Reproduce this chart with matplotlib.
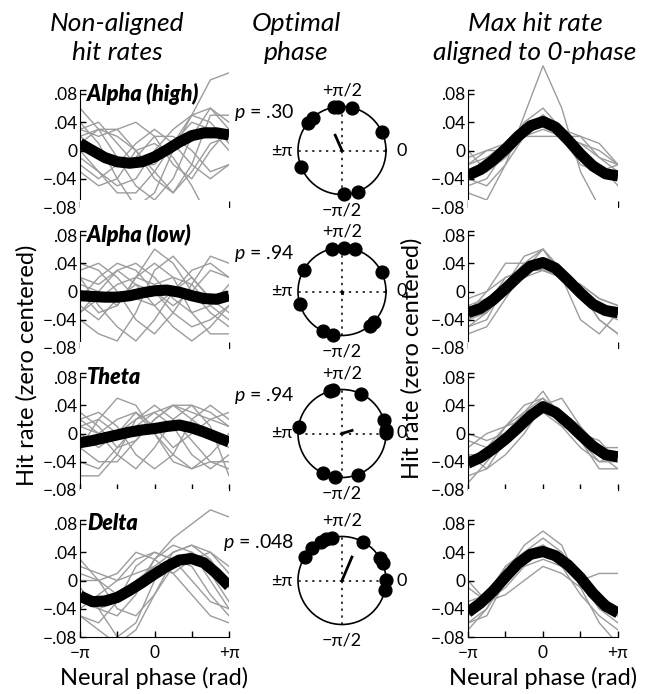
import numpy as np
import matplotlib
matplotlib.use('Agg')
import matplotlib.pyplot as plt

plt.rcParams['font.family'] = ['Lato', 'DejaVu Sans']
plt.rcParams['mathtext.fontset'] = 'custom'
plt.rcParams['mathtext.it'] = 'Lato:italic'
plt.rcParams['mathtext.rm'] = 'Lato'

# phase bins (rad): grey lines use 9 bins, mean curves 13 bins
phase_raw = np.linspace(-np.pi, np.pi, 9)
phase_fit = np.linspace(-np.pi, np.pi, 13)

band_names = ['Alpha (high)', 'Alpha (low)', 'Theta', 'Delta']
p_labels = ['$p$ = .30', '$p$ = .94', '$p$ = .94', '$p$ = .048']

# ---- non-aligned hit rates (left column) ----
alpha_high_raw = [
    [0.06, 0.03, -0.01, -0.05, -0.07, -0.04, 0.02, 0.06, 0.04],
    [0.03, 0.02, 0.03, 0.04, 0.02, -0.02, -0.04, 0.00, 0.03],
    [0.02, 0.03, 0.02, 0.00, -0.03, -0.06, -0.02, 0.05, 0.05],
    [0.00, -0.03, -0.05, -0.04, 0.00, 0.03, 0.05, 0.04, 0.01],
    [-0.02, -0.04, -0.02, 0.01, 0.03, 0.01, -0.02, -0.04, -0.02],
    [0.04, 0.01, -0.04, -0.08, -0.06, 0.00, 0.05, 0.10, 0.11],
    [0.01, 0.03, 0.03, 0.00, -0.04, -0.06, -0.03, 0.01, 0.02],
    [-0.01, -0.03, -0.06, -0.06, -0.03, 0.01, 0.04, 0.03, 0.00],
    [0.02, 0.00, -0.02, -0.01, 0.02, 0.02, 0.00, -0.03, -0.02],
    [-0.03, -0.05, -0.04, 0.00, 0.01, -0.01, -0.05, -0.10, -0.10],
    [0.03, 0.04, 0.01, -0.02, -0.02, 0.01, 0.05, 0.06, 0.03],
]
alpha_high_mean = [0.010, 0.000, -0.010, -0.016, -0.018, -0.016, -0.009,
                   0.001, 0.012, 0.021, 0.025, 0.025, 0.022]

alpha_low_raw = [
    [0.04, 0.03, 0.00, -0.04, -0.06, -0.03, 0.01, 0.05, 0.04],
    [-0.03, 0.00, 0.03, 0.04, 0.02, -0.01, -0.03, -0.02, 0.01],
    [0.02, -0.02, -0.05, -0.07, -0.04, 0.00, 0.02, -0.01, -0.03],
    [-0.01, 0.02, 0.04, 0.03, 0.00, -0.03, -0.05, -0.04, -0.02],
    [0.01, 0.00, -0.02, 0.02, 0.06, 0.04, 0.00, -0.03, -0.05],
    [-0.04, -0.06, -0.07, -0.03, 0.03, 0.05, 0.02, -0.01, 0.00],
    [0.03, 0.04, 0.02, -0.01, -0.02, 0.00, 0.03, 0.04, 0.02],
    [0.00, -0.03, -0.02, 0.02, 0.04, 0.02, -0.03, -0.06, -0.06],
    [-0.02, -0.04, -0.01, 0.01, 0.00, -0.02, 0.00, 0.03, 0.02],
    [0.02, 0.01, 0.03, 0.01, -0.02, -0.05, -0.07, -0.05, -0.02],
    [-0.03, -0.01, 0.01, 0.02, 0.01, 0.02, 0.01, -0.02, -0.04],
]
alpha_low_mean = [-0.006, -0.007, -0.008, -0.008, -0.006, -0.002, 0.001,
                  0.002, -0.001, -0.006, -0.010, -0.011, -0.006]

theta_raw = [
    [0.02, 0.00, -0.03, -0.05, -0.02, 0.02, 0.04, 0.03, 0.01],
    [-0.02, 0.02, 0.05, 0.04, 0.00, -0.04, -0.05, -0.03, 0.00],
    [0.01, 0.02, 0.00, 0.02, 0.04, 0.02, -0.01, -0.04, -0.05],
    [-0.04, -0.05, -0.02, 0.01, 0.03, 0.04, 0.03, 0.02, 0.01],
    [0.03, 0.01, -0.02, -0.01, 0.02, 0.04, 0.02, 0.00, -0.02],
    [-0.06, -0.06, -0.03, 0.02, 0.03, 0.01, -0.03, -0.05, -0.03],
    [0.00, -0.02, 0.00, 0.03, 0.01, -0.02, 0.00, 0.02, 0.03],
    [0.02, 0.03, 0.01, -0.03, -0.05, -0.03, 0.02, 0.04, 0.02],
    [-0.02, -0.04, -0.04, -0.01, 0.02, 0.04, 0.04, 0.01, -0.06],
    [0.01, 0.00, 0.02, 0.03, 0.00, -0.03, -0.05, -0.04, -0.04],
]
theta_mean = [-0.013, -0.010, -0.006, -0.002, 0.002, 0.005, 0.007,
              0.010, 0.012, 0.008, 0.002, -0.005, -0.012]

delta_raw = [
    [-0.05, -0.06, -0.03, 0.02, 0.04, 0.03, 0.00, -0.03, -0.04],
    [-0.03, -0.04, -0.05, -0.02, 0.03, 0.05, 0.04, 0.02, 0.00],
    [0.01, 0.00, -0.02, -0.01, 0.03, 0.06, 0.08, 0.10, 0.09],
    [0.02, 0.01, 0.00, 0.03, 0.04, 0.03, 0.02, -0.02, -0.05],
    [-0.01, -0.04, -0.08, -0.06, 0.00, 0.04, 0.05, 0.03, -0.01],
    [-0.04, -0.02, 0.00, 0.01, 0.02, 0.04, 0.05, 0.04, 0.02],
    [0.03, 0.00, -0.04, -0.05, -0.02, 0.02, 0.04, 0.01, -0.03],
    [-0.05, -0.07, -0.09, -0.07, -0.02, 0.03, 0.04, 0.00, -0.04],
    [0.00, 0.00, 0.01, 0.04, 0.03, 0.01, 0.03, 0.04, 0.01],
    [-0.02, -0.04, -0.03, 0.00, 0.02, 0.01, -0.02, -0.05, -0.06],
]
delta_mean = [-0.022, -0.030, -0.029, -0.024, -0.014, -0.003, 0.009,
              0.020, 0.029, 0.031, 0.025, 0.010, -0.008]

# ---- hit rates aligned to 0-phase (right column) ----
alpha_high_aligned = [
    [-0.04, -0.05, -0.02, 0.02, 0.05, 0.03, -0.01, -0.03, -0.04],
    [-0.03, -0.02, 0.00, 0.03, 0.05, 0.03, 0.00, -0.03, -0.03],
    [-0.06, -0.07, -0.02, 0.05, 0.12, 0.06, -0.03, -0.08, -0.09],
    [-0.02, 0.00, 0.00, 0.02, 0.03, 0.02, 0.01, -0.01, -0.02],
    [-0.01, 0.00, 0.01, 0.02, 0.04, 0.02, 0.02, 0.01, -0.02],
    [-0.04, -0.03, 0.00, 0.03, 0.05, 0.03, -0.01, -0.03, -0.04],
    [-0.05, -0.04, 0.00, 0.04, 0.06, 0.03, 0.00, -0.02, -0.05],
    [-0.02, -0.01, 0.01, 0.02, 0.02, 0.02, 0.01, 0.00, -0.02],
    [0.00, -0.03, -0.01, 0.02, 0.04, 0.03, 0.02, -0.01, -0.03],
    [-0.03, -0.03, 0.01, 0.03, 0.05, 0.02, -0.02, -0.03, -0.02],
]
alpha_high_aligned_mean = [-0.035, -0.027, -0.014, 0.002, 0.020, 0.035, 0.041,
                           0.033, 0.015, -0.005, -0.022, -0.033, -0.036]

alpha_low_aligned = [
    [-0.03, 0.00, 0.04, 0.04, 0.03, 0.02, 0.00, -0.04, -0.06],
    [-0.05, -0.04, 0.01, 0.05, 0.06, 0.02, -0.04, -0.06, -0.03],
    [-0.02, -0.01, 0.01, 0.03, 0.04, 0.02, 0.01, -0.01, -0.02],
    [-0.06, -0.05, -0.01, 0.03, 0.06, 0.03, 0.00, -0.03, -0.04],
    [-0.01, 0.00, 0.02, 0.03, 0.03, 0.02, 0.01, -0.01, -0.02],
    [-0.04, -0.03, 0.00, 0.04, 0.06, 0.03, -0.01, -0.03, -0.03],
    [-0.03, -0.02, 0.02, 0.03, 0.03, 0.02, 0.00, -0.02, -0.03],
    [-0.05, -0.03, 0.00, 0.02, 0.03, 0.02, 0.00, -0.04, -0.06],
    [-0.02, -0.03, 0.01, 0.04, 0.04, 0.02, -0.01, -0.02, -0.03],
]
alpha_low_aligned_mean = [-0.030, -0.024, -0.012, 0.004, 0.021, 0.036, 0.041,
                          0.033, 0.016, -0.002, -0.018, -0.027, -0.030]

theta_aligned = [
    [-0.05, -0.03, 0.00, 0.03, 0.06, 0.02, -0.01, -0.04, -0.04],
    [-0.01, -0.02, 0.00, 0.02, 0.04, 0.02, 0.00, -0.03, -0.05],
    [-0.03, -0.05, -0.01, 0.02, 0.03, 0.03, 0.01, -0.02, -0.03],
    [-0.02, 0.00, 0.01, 0.03, 0.04, 0.03, 0.00, -0.02, -0.02],
    [-0.06, -0.05, -0.03, 0.00, 0.04, 0.05, 0.01, -0.03, -0.04],
    [-0.03, -0.03, 0.01, 0.04, 0.05, 0.01, -0.02, -0.04, -0.03],
    [-0.04, -0.02, 0.01, 0.02, 0.03, 0.02, 0.00, -0.01, -0.04],
    [-0.07, -0.04, -0.01, 0.03, 0.05, 0.03, -0.01, -0.05, -0.05],
    [0.00, -0.01, 0.00, 0.02, 0.03, 0.01, 0.00, -0.02, -0.03],
]
theta_aligned_mean = [-0.042, -0.034, -0.022, -0.008, 0.008, 0.025, 0.038,
                      0.030, 0.015, -0.002, -0.018, -0.030, -0.033]

delta_aligned = [
    [-0.06, -0.04, 0.00, 0.04, 0.06, 0.04, 0.00, -0.04, -0.06],
    [-0.03, -0.02, 0.01, 0.03, 0.04, 0.02, 0.00, 0.01, 0.01],
    [-0.07, -0.04, 0.01, 0.05, 0.07, 0.05, -0.01, -0.06, -0.09],
    [-0.01, -0.03, -0.02, 0.00, 0.02, 0.01, -0.01, -0.02, -0.04],
    [-0.05, -0.03, 0.02, 0.04, 0.05, 0.03, 0.00, -0.04, -0.05],
    [-0.04, -0.03, 0.01, 0.04, 0.04, 0.03, 0.01, -0.03, -0.05],
    [-0.06, -0.05, 0.00, 0.03, 0.05, 0.02, -0.02, -0.05, -0.07],
    [0.00, -0.03, -0.01, 0.02, 0.03, 0.02, 0.00, -0.03, -0.04],
    [-0.04, -0.02, 0.02, 0.04, 0.05, 0.03, 0.00, -0.03, -0.05],
]
delta_aligned_mean = [-0.045, -0.032, -0.015, 0.005, 0.024, 0.037, 0.041,
                      0.035, 0.022, 0.004, -0.018, -0.036, -0.046]

# ---- optimal phase per participant (deg) and mean vector ----
alpha_high_phase = [100, 95, 77, 25, 132, 141, 202, 273, 291]
alpha_low_phase = [103, 88, 73, 26, 150, 196, 245, 258, 309, 316]
theta_phase = [106, 102, 65, 18, 5, 1, 171, 245, 261, 291]
delta_phase = [133, 119, 111, 103, 148, 61, 31, 23, 1, -12]
vector_angle = [114, 270, 17, 67]
vector_len = [0.38, 0.04, 0.24, 0.58]

raw_sets = [alpha_high_raw, alpha_low_raw, theta_raw, delta_raw]
mean_sets = [alpha_high_mean, alpha_low_mean, theta_mean, delta_mean]
aligned_sets = [alpha_high_aligned, alpha_low_aligned, theta_aligned, delta_aligned]
aligned_mean_sets = [alpha_high_aligned_mean, alpha_low_aligned_mean,
                     theta_aligned_mean, delta_aligned_mean]
phase_sets = [alpha_high_phase, alpha_low_phase, theta_phase, delta_phase]

W, H = 655, 694
fig = plt.figure(figsize=(W / 100, H / 100), dpi=100)


def box(x0, y0, x1, y1):
    # pixel box -> figure fraction
    return [x0 / W, 1 - y1 / H, (x1 - x0) / W, (y1 - y0) / H]


GREY = '#9c9c9c'
row_bottom = [207, 348, 490, 637]
px_per_unit = 113 / 0.16
YTOP = 0.13


def line_panel(ax, raws, mean, last_row, title=None):
    for r in raws:
        ax.plot(phase_raw, r, color=GREY, lw=1.0, zorder=1)
    ax.plot(phase_fit, mean, color='k', lw=8, solid_capstyle='butt', zorder=2)
    ax.set_xlim(-np.pi, np.pi)
    ax.set_ylim(-0.08, YTOP)
    for s in ['top', 'right']:
        ax.spines[s].set_visible(False)
    ax.spines['left'].set_bounds(-0.08, 0.086)
    ax.set_yticks([-0.08, -0.04, 0, 0.04, 0.08])
    ax.set_yticklabels(['\u2212.08', '\u2212.04', '0', '.04', '.08'])
    ax.set_yticks([0.086], minor=True)
    ax.set_xticks([-np.pi, -np.pi / 2, 0, np.pi / 2, np.pi])
    if last_row:
        ax.set_xticklabels(['\u2212\u03c0', '', '0', '', '+\u03c0'])
    else:
        ax.set_xticklabels([])
    ax.tick_params(direction='in', length=4, width=1, labelsize=12.5)
    ax.tick_params(axis='y', pad=2)
    ax.tick_params(axis='x', pad=6)
    ax.tick_params(axis='y', which='minor', direction='in', length=4, width=1)
    if title:
        ax.text(-np.pi + 0.3, 0.08, title, fontsize=15.5, fontweight='heavy',
                style='italic', va='center', ha='left')


for i in range(4):
    yb = row_bottom[i]
    yt = yb - (YTOP + 0.08) * px_per_unit
    last = i == 3

    ax = fig.add_axes(box(80, yt, 229, yb))
    line_panel(ax, raw_sets[i], mean_sets[i], last, band_names[i])

    ax2 = fig.add_axes(box(468, yt, 618, yb))
    line_panel(ax2, aligned_sets[i], aligned_mean_sets[i], last)

    # polar plot of optimal phases
    cy = yb - 0.08 * px_per_unit
    pax = fig.add_axes(box(298, cy - 44, 386, cy + 44), projection='polar')
    pax.set_ylim(0, 1)
    pax.set_yticks([])
    pax.set_xticks(np.deg2rad([0, 90, 180, 270]))
    pax.set_xticklabels(['0', '+\u03c0/2', '\u00b1\u03c0', '\u2212\u03c0/2'], fontsize=13)
    pax.tick_params(axis='x', pad=1)
    pax.xaxis.grid(True, color='k', linestyle=(0, (1.5, 3)), lw=1.1)
    pax.yaxis.grid(False)
    pax.spines['polar'].set_linewidth(1.2)
    ph = np.deg2rad(phase_sets[i])
    pax.scatter(ph, np.ones(len(ph)), s=85, color='k', clip_on=False, zorder=3)
    va = np.deg2rad(vector_angle[i])
    pax.plot([va, va], [0, vector_len[i]], color='k', lw=2, zorder=3)

    fig.text(294 / W, 1 - (cy - 38) / H, p_labels[i], fontsize=14,
             ha='right', va='center')

# column headers
fig.text(117 / W, 1 - 38 / H, 'Non-aligned\nhit rates', fontsize=19, style='italic',
         ha='center', va='center', linespacing=1.3)
fig.text(296 / W, 1 - 38 / H, 'Optimal\nphase', fontsize=19, style='italic',
         ha='center', va='center', linespacing=1.3)
fig.text(535 / W, 1 - 38 / H, 'Max hit rate\naligned to 0-phase', fontsize=19,
         style='italic', ha='center', va='center', linespacing=1.3)

# axis labels
fig.text(27 / W, 1 - 365 / H, 'Hit rate (zero centered)', fontsize=17,
         rotation=90, ha='center', va='center')
fig.text(412 / W, 1 - 358 / H, 'Hit rate (zero centered)', fontsize=17,
         rotation=90, ha='center', va='center')
fig.text(154 / W, 1 - 678 / H, 'Neural phase (rad)', fontsize=17,
         ha='center', va='center')
fig.text(543 / W, 1 - 678 / H, 'Neural phase (rad)', fontsize=17,
         ha='center', va='center')

fig.savefig('out.png', dpi=100)
